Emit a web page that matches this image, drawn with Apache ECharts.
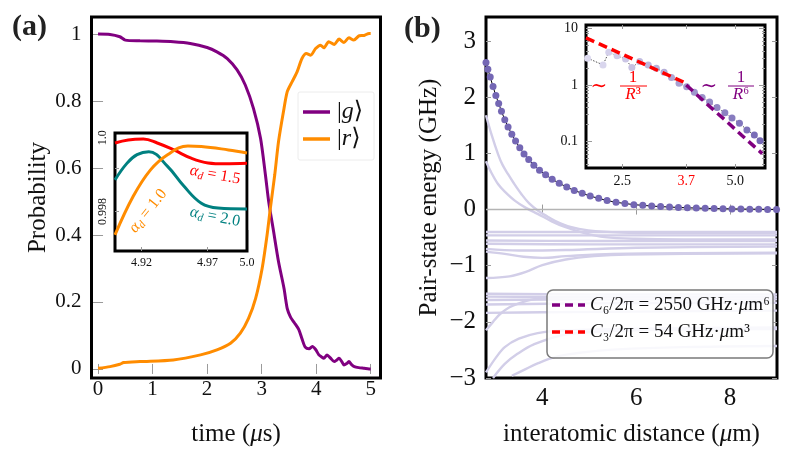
<!DOCTYPE html>
<html><head><meta charset="utf-8">
<script src="https://cdn.jsdelivr.net/npm/echarts@6/dist/echarts.min.js"></script>
<style>html,body{margin:0;padding:0;background:#fff}#c{width:791px;height:468px}</style>
</head><body><div id="c"></div>
<script>
// ---------- panel (a) data ----------
const timeTicks = [0, 1, 2, 3, 4, 5];
const probTicks = [0, 0.2, 0.4, 0.6, 0.8, 1];
const probG = [[0,1.0],[0.22,0.999],[0.40,0.992],[0.50,0.982],[0.77,0.980],[1.08,0.979],[1.38,0.977],[1.69,0.972],[2.0,0.960],[2.18,0.947],[2.37,0.927],[2.55,0.893],[2.70,0.848],[2.85,0.778],[2.98,0.689],[3.07,0.579],[3.13,0.499],[3.21,0.420],[3.31,0.320],[3.41,0.241],[3.47,0.180],[3.53,0.155],[3.60,0.138],[3.68,0.118],[3.74,0.090],[3.80,0.065],[3.87,0.060],[3.93,0.067],[3.99,0.058],[4.05,0.042],[4.10,0.036],[4.14,0.032],[4.20,0.042],[4.26,0.033],[4.33,0.022],[4.38,0.027],[4.42,0.032],[4.47,0.022],[4.51,0.012],[4.56,0.016],[4.60,0.022],[4.65,0.013],[4.70,0.007],[4.78,0.004],[4.88,0.002],[4.97,0.0],[5.0,0.0]];
const probR = [[0,0.002],[0.22,0.007],[0.40,0.014],[0.47,0.019],[0.77,0.022],[1.38,0.027],[1.88,0.042],[2.18,0.057],[2.43,0.077],[2.61,0.107],[2.76,0.151],[2.89,0.211],[3.01,0.301],[3.10,0.400],[3.16,0.480],[3.24,0.579],[3.31,0.679],[3.40,0.768],[3.47,0.828],[3.56,0.858],[3.65,0.887],[3.74,0.927],[3.82,0.942],[3.90,0.937],[3.99,0.957],[4.08,0.967],[4.14,0.959],[4.23,0.977],[4.33,0.969],[4.42,0.985],[4.51,0.975],[4.60,0.989],[4.69,0.982],[4.79,0.995],[4.88,0.996],[4.97,1.002],[5.0,1.002]];
// inset (a)
const zoomTimeTicks = [4.92, 4.97];
const zoomTimeLabels = [4.92, 4.97, 5.0];
const zoomProbTicks = [0.998, 0.999];
const zoomProbLabelAt = [0.998, 0.9997];
const zoomProbLabels = ['0.998', '1.0'];
const fid15 = [[4.900,0.99958],[4.910,0.99965],[4.9215,0.99967],[4.932,0.99958],[4.9446,0.99942],[4.9577,0.99923],[4.9705,0.99912],[4.983,0.99910],[5.0,0.99911]];
const fid20 = [[4.900,0.99873],[4.909,0.99911],[4.9167,0.99931],[4.9256,0.99938],[4.9398,0.99904],[4.9523,0.99858],[4.9654,0.99819],[4.978,0.99808],[5.0,0.99806]];
const fid10 = [[4.900,0.99746],[4.9138,0.99835],[4.9269,0.99896],[4.9398,0.99931],[4.9552,0.99951],[4.9654,0.99950],[4.9859,0.99942],[5.0,0.99935]];

// ---------- panel (b) data ----------
const distTicks = [4, 6, 8];
const energyTicks = [-3, -2, -1, 0, 1, 2, 3];
const pairR = [2.80,2.84,2.89,2.95,3.01,3.07,3.13,3.20,3.27,3.35,3.43,3.52,3.61,3.71,3.82,3.94,4.07,4.21,4.36,4.52,4.68,4.85,5.02,5.20,5.38,5.57,5.76,5.95,6.14,6.33,6.52,6.71,6.90,7.09,7.28,7.47,7.66,7.85,8.04,8.23,8.42,8.61,8.80,8.99];
const pairE = [2.62,2.50,2.36,2.19,2.03,1.89,1.75,1.60,1.47,1.34,1.22,1.10,0.99,0.89,0.79,0.70,0.62,0.54,0.47,0.40,0.34,0.29,0.24,0.20,0.16,0.13,0.108,0.088,0.075,0.063,0.053,0.045,0.038,0.032,0.027,0.022,0.018,0.015,0.012,0.009,0.007,0.005,0.003,0.002];
const levelHi1 = [[2.8,1.68],[2.92,1.33],[3.06,0.98],[3.15,0.80],[3.27,0.63],[3.4,0.46],[3.56,0.27],[3.72,0.11],[3.91,-0.02],[4.1,-0.12],[4.27,-0.2],[4.6,-0.31],[4.98,-0.37],[5.69,-0.41],[6.5,-0.42],[9,-0.42]];
const levelHi2 = [[2.8,0.86],[2.9,0.68],[3.06,0.45],[3.2,0.32],[3.42,0.155],[3.65,0.03],[3.91,-0.08],[4.2,-0.21],[4.48,-0.31],[4.9,-0.42],[5.33,-0.49],[6,-0.52],[7,-0.53],[9,-0.53]];
const levelF1 = [[2.8,-0.40],[5,-0.40],[9,-0.40]];
const levelF2 = [[2.8,-0.46],[5,-0.46],[9,-0.46]];
const levelF3 = [[2.8,-0.55],[5,-0.56],[9,-0.56]];
const levelF4 = [[2.8,-0.61],[5,-0.62],[9,-0.62]];
const levelF5 = [[2.8,-0.70],[3.5,-0.73],[4.5,-0.72],[6,-0.68],[9,-0.66]];
const levelX1 = [[2.8,-0.75],[3.2,-0.79],[3.6,-0.84],[4.0,-0.86],[4.5,-0.83],[5.5,-0.79],[9,-0.77]];
const levelX2 = [[2.8,-1.22],[3.3,-1.19],[3.65,-1.11],[4.0,-0.99],[4.5,-0.89],[5.1,-0.83],[5.8,-0.80],[9,-0.78]];
const levelL1 = [[2.8,-1.50],[5,-1.51],[9,-1.51]];
const levelL2 = [[2.8,-1.55],[5,-1.56],[9,-1.56]];
const levelL3 = [[2.8,-1.61],[5,-1.60],[9,-1.60]];
const levelL4 = [[2.8,-1.69],[5,-1.67],[9,-1.66]];
const levelL5 = [[2.8,-1.84],[4,-1.83],[9,-1.80]];
const levelR1 = [[2.8,-2.15],[2.95,-2.0],[3.1,-1.86],[3.3,-1.74],[3.5,-1.67],[3.8,-1.60],[4.1,-1.57],[5,-1.55],[9,-1.55]];
const levelR2 = [[2.8,-2.9],[3.0,-2.65],[3.2,-2.45],[3.5,-2.30],[3.9,-2.2],[4.5,-2.15],[6,-2.12],[9,-2.1]];
const levelR3 = [[2.95,-3.0],[3.2,-2.75],[3.47,-2.57],[3.82,-2.40],[4.53,-2.22],[6,-2.15],[9,-2.13]];
const levelR4 = [[3.35,-2.96],[3.6,-2.86],[3.9,-2.74],[4.3,-2.62],[4.8,-2.55],[5.6,-2.49],[7,-2.45],[9,-2.43]];
// inset (b)
const insetRTicks = [2.5, 3.7, 5.0];
const insetETicks = [0.1, 1, 10];
const insetEMinor = [0.04,0.05,0.06,0.07,0.08,0.09,0.2,0.3,0.4,0.5,0.6,0.7,0.8,0.9,2,3,4,5,6,7,8,9];
const insetR = [2.02,2.22,2.30,2.42,2.55,2.65,2.78,2.93,3.08,3.23,3.38,3.54,3.71,3.89,4.08,4.27,4.47,4.69,4.90,5.13,5.37,5.62,5.82];
const insetE = [2.96,2.25,3.77,3.25,2.87,2.02,2.58,2.25,1.97,1.67,1.35,1.07,0.93,0.74,0.60,0.50,0.40,0.32,0.26,0.21,0.16,0.13,0.103];
const c3R = [2.0, 2.5, 3.0, 3.7];
const c3E = [6.75, 3.46, 2.0, 1.066];
const c6R = [3.7, 4.2, 4.7, 5.2, 5.9];
const c6E = [0.994, 0.46, 0.238, 0.129, 0.061];

// ---------- helpers ----------
const FONT = "'Liberation Serif','DejaVu Serif',serif";
const zip = (a, b) => a.map((v, i) => [v, b[i]]);
const tk = (vals, len) => ({show: true, inside: true, length: len || 5, customValues: vals, lineStyle: {color: '#9a9a9a', width: 1}});
const noLine = {show: false};
const noSplit = {show: false};
const lab = (vals, size, margin, extra) => Object.assign({customValues: vals, fontSize: size, fontFamily: FONT, color: '#111', margin: margin}, extra || {});
const lerp = (a, b, t) => Math.round(a + (b - a) * t);

const xAxis = [
  {gridIndex: 0, type: 'value', min: -0.12, max: 5.18, position: 'bottom', axisLine: noLine, splitLine: noSplit,
   axisTick: tk(timeTicks), axisLabel: lab(timeTicks, 21, 1),
   name: 'time ({i|μ}s)', nameLocation: 'middle', nameGap: 44,
   nameTextStyle: {fontSize: 25, fontFamily: FONT, color: '#111', rich: {i: {fontSize: 25, fontFamily: FONT, fontStyle: 'italic', color: '#111'}}}},
  {gridIndex: 0, type: 'value', min: -0.12, max: 5.18, position: 'top', axisLine: noLine, splitLine: noSplit, axisTick: tk(timeTicks), axisLabel: {show: false}},
  {gridIndex: 1, type: 'value', min: 4.9, max: 5.0, position: 'bottom', z: 6, axisLine: noLine, splitLine: noSplit,
   axisTick: tk(zoomTimeTicks, 4), axisLabel: lab(zoomTimeLabels, 12, 6, {formatter: v => v.toFixed(v === 5 ? 1 : 2)})},
  {gridIndex: 2, type: 'value', min: 2.8, max: 9, position: 'bottom', axisLine: noLine, splitLine: noSplit,
   axisTick: tk(distTicks), axisLabel: lab(distTicks, 25, 8),
   name: 'interatomic distance ({i|μ}m)', nameLocation: 'middle', nameGap: 44,
   nameTextStyle: {fontSize: 25, fontFamily: FONT, color: '#111', rich: {i: {fontSize: 25, fontFamily: FONT, fontStyle: 'italic', color: '#111'}}}},
  {gridIndex: 2, type: 'value', min: 2.8, max: 9, position: 'top', axisLine: noLine, splitLine: noSplit, axisTick: tk(distTicks), axisLabel: {show: false}},
  {gridIndex: 3, type: 'log', logBase: 10, min: 2, max: 6, position: 'bottom', z: 6, axisLine: noLine, splitLine: noSplit,
   axisTick: tk(insetRTicks, 4), axisLabel: lab(insetRTicks, 14, 6, {formatter: v => Math.abs(v - 3.7) < 1e-6 ? '{r|3.7}' : v.toFixed(1), rich: {r: {color: '#ff0000', fontSize: 14, fontFamily: FONT}}})},
  {gridIndex: 3, type: 'log', logBase: 10, min: 2, max: 6, position: 'top', z: 6, axisLine: noLine, splitLine: noSplit, axisTick: tk(insetRTicks, 4), axisLabel: {show: false}}
];
const yAxis = [
  {gridIndex: 0, type: 'value', min: -0.027, max: 1.051, position: 'left', axisLine: noLine, splitLine: noSplit,
   axisTick: tk(probTicks), axisLabel: lab(probTicks, 21, 10, {formatter: v => (v === 0 || v === 1) ? String(v) : v.toFixed(1)}),
   name: 'Probability', nameLocation: 'middle', nameGap: 35, nameRotate: 90,
   nameTextStyle: {fontSize: 25, fontFamily: FONT, color: '#111'}},
  {gridIndex: 0, type: 'value', min: -0.027, max: 1.051, position: 'right', axisLine: noLine, splitLine: noSplit, axisTick: tk(probTicks), axisLabel: {show: false}},
  {gridIndex: 1, type: 'value', min: 0.99709, max: 0.99981, position: 'left', z: 6, axisLine: noLine, splitLine: noSplit,
   axisTick: tk(zoomProbTicks, 4),
   axisLabel: lab(zoomProbLabelAt, 12, 6, {rotate: 90, formatter: v => zoomProbLabels[zoomProbLabelAt.findIndex(u => Math.abs(u - v) < 1e-7)]})},
  {gridIndex: 2, type: 'value', min: -3, max: 3.43, position: 'left', axisLine: noLine, splitLine: noSplit,
   axisTick: tk(energyTicks), axisLabel: lab(energyTicks, 25, 10, {formatter: v => v < 0 ? '\u2212' + Math.abs(v) : String(v)}),
   name: 'Pair-state energy (GHz)', nameLocation: 'middle', nameGap: 44, nameRotate: 90,
   nameTextStyle: {fontSize: 25, fontFamily: FONT, color: '#111'}},
  {gridIndex: 2, type: 'value', min: -3, max: 3.43, position: 'right', axisLine: noLine, splitLine: noSplit, axisTick: tk(energyTicks), axisLabel: {show: false}},
  {gridIndex: 3, type: 'log', logBase: 10, min: 0.034, max: 11.4, position: 'left', z: 6, axisLine: noLine, splitLine: noSplit,
   axisTick: tk(insetETicks, 6), axisLabel: lab(insetETicks, 14, 8, {formatter: v => v >= 1 ? String(Math.round(v)) : String(v)})},
  {gridIndex: 3, type: 'log', logBase: 10, min: 0.034, max: 11.4, position: 'left', z: 6, axisLine: noLine, splitLine: noSplit, axisTick: tk(insetEMinor, 3), axisLabel: {show: false}},
  {gridIndex: 3, type: 'log', logBase: 10, min: 0.034, max: 11.4, position: 'right', z: 6, axisLine: noLine, splitLine: noSplit, axisTick: tk(insetETicks, 6), axisLabel: {show: false}},
  {gridIndex: 3, type: 'log', logBase: 10, min: 0.034, max: 11.4, position: 'right', z: 6, axisLine: noLine, splitLine: noSplit, axisTick: tk(insetEMinor, 3), axisLabel: {show: false}}
];

const LIGHT = '#d2cee8';
const lightLevels = [levelHi1, levelHi2, levelF1, levelF2, levelF3, levelF4, levelF5, levelX1, levelX2, levelL1, levelL2, levelL3, levelL4, levelL5, levelR1, levelR2, levelR3, levelR4];
const series = [];
const ln = (xi, yi, data, color, width, z, extra) => Object.assign({type: 'line', xAxisIndex: xi, yAxisIndex: yi, data: data, showSymbol: false, symbol: 'none', z: z,
  lineStyle: {color: color, width: width}, itemStyle: {color: color}, silent: true, animation: false}, extra || {});

series.push(ln(0, 0, probG, '#800080', 3, 3, {smooth: 0.25, name: 'g'}));
series.push(ln(0, 0, probR, '#ff8c00', 3, 3, {smooth: 0.25, name: 'r'}));
series.push(ln(2, 2, fid15, '#ff0000', 3, 7, {smooth: 0.4}));
series.push(ln(2, 2, fid20, '#008080', 3, 7, {smooth: 0.4}));
series.push(ln(2, 2, fid10, '#ff8c00', 3, 7, {smooth: 0.4}));
lightLevels.forEach(d => series.push(ln(3, 3, d, LIGHT, 2.4, 2, {smooth: 0.35})));
series.push(ln(3, 3, [[2.8, 0], [9, 0]], '#b4b4b4', 1.5, 2));
series.push(ln(3, 3, zip(pairR, pairE), '#000', 1, 4, {showSymbol: true, symbol: 'circle', symbolSize: 7,
  itemStyle: {color: '#7467b4', borderWidth: 0}}));
const n = insetR.length;
series.push(ln(5, 5, zip(insetR, insetE), '#222', 0.8, 7, {showSymbol: true, symbol: 'circle', symbolSize: 7,
  lineStyle: {color: '#222', width: 0.8, type: [1.5, 1.5]},
  itemStyle: {borderWidth: 0, color: p => {const t = Math.min(1, p.dataIndex / (n - 1)); return 'rgb(' + lerp(222, 116, t) + ',' + lerp(219, 103, t) + ',' + lerp(240, 180, t) + ')';}}}));
series.push(ln(5, 5, zip(c3R, c3E), '#ff0000', 3.5, 8, {lineStyle: {color: '#ff0000', width: 3.5, type: [9, 5]}}));
series.push(ln(5, 5, zip(c6R, c6E), '#800080', 3.5, 8, {lineStyle: {color: '#800080', width: 3.5, type: [9, 5]}}));

// rich styles for graphic texts use "fill"
const RICH_TXT = (size, color) => ({
  n: {fontSize: size, fontFamily: FONT, fill: color},
  i: {fontSize: size, fontFamily: FONT, fontStyle: 'italic', fill: color}
});
const alphaRich = color => ({
  i: {fontSize: 16, fontFamily: FONT, fontStyle: 'italic', fill: color, lineHeight: 19},
  s: {fontSize: 11, fontFamily: FONT, fontStyle: 'italic', fill: color, lineHeight: 19, verticalAlign: 'bottom'},
  n: {fontSize: 16, fontFamily: FONT, fill: color, lineHeight: 19}
});
const rtxt = (x, y, text, rich, align, extra) => Object.assign({type: 'text', x: x, y: y, z: 60, silent: true,
  style: {text: text, rich: rich, align: align || 'center', verticalAlign: 'middle', fontFamily: FONT}}, extra || {});
const ptxt = (x, y, text, size, color) => ({type: 'text', x: x, y: y, z: 60, silent: true,
  style: {text: text, fontSize: size, fontFamily: FONT, fill: color, align: 'center', verticalAlign: 'middle'}});

const graphic = [
  {type: 'text', left: 12, top: 12, z: 60, style: {text: '(a)', fontSize: 30, fontWeight: 'bold', fontFamily: FONT, fill: '#222'}},
  {type: 'text', left: 404, top: 14, z: 60, style: {text: '(b)', fontSize: 30, fontWeight: 'bold', fontFamily: FONT, fill: '#222'}},
  // legend (a)
  {type: 'rect', z: 55, silent: true, shape: {x: 298, y: 92, width: 76, height: 68, r: 2}, style: {fill: '#fff', stroke: '#ececec', lineWidth: 1}},
  {type: 'line', z: 56, silent: true, shape: {x1: 303, y1: 112, x2: 330, y2: 112}, style: {stroke: '#800080', lineWidth: 3.5}},
  {type: 'line', z: 56, silent: true, shape: {x1: 303, y1: 139, x2: 330, y2: 139}, style: {stroke: '#ff8c00', lineWidth: 3.5}},
  rtxt(337, 112, '{n||}{i|g}{n|\u27e9}', RICH_TXT(24, '#111'), 'left'),
  rtxt(337, 139, '{n||}{i|r}{n|\u27e9}', RICH_TXT(24, '#111'), 'left'),
  // inset (a) labels
  rtxt(215, 175, '{i|α}{s|d}{n| = 1.5}', alphaRich('#ff0000'), 'center', {rotation: -0.18}),
  rtxt(215, 217, '{i|α}{s|d}{n| = 2.0}', alphaRich('#008080'), 'center', {rotation: -0.2}),
  rtxt(148, 211, '{i|α}{s|d}{n| = 1.0}', alphaRich('#ff8c00'), 'center', {rotation: 0.9}),
  {type: 'rect', z: 61, silent: true, shape: {x: 248.7, y: 160, width: 10, height: 70}, style: {fill: '#fff'}},
  // inset (b) annotations
  ptxt(599, 87, '∼', 20, '#ff0000'),
  ptxt(633, 78, '1', 17, '#ff0000'),
  {type: 'line', z: 60, silent: true, shape: {x1: 620, y1: 86, x2: 647, y2: 86}, style: {stroke: '#ff0000', lineWidth: 1}},
  rtxt(633, 95, '{i|R}{n|³}', RICH_TXT(17, '#ff0000')),
  ptxt(709, 87, '∼', 20, '#800080'),
  ptxt(741, 78, '1', 17, '#800080'),
  {type: 'line', z: 60, silent: true, shape: {x1: 728, y1: 86, x2: 754, y2: 86}, style: {stroke: '#800080', lineWidth: 1}},
  rtxt(741, 95, '{i|R}{n|⁶}', RICH_TXT(17, '#800080')),
  // legend (b)
  {type: 'rect', z: 55, silent: true, shape: {x: 547, y: 290, width: 226, height: 68, r: 6}, style: {fill: 'rgba(255,255,255,0.85)', stroke: '#7a7a7a', lineWidth: 1.5}},
  {type: 'line', z: 56, silent: true, shape: {x1: 552, y1: 305, x2: 585, y2: 305}, style: {stroke: '#800080', lineWidth: 3.5, lineDash: [8, 5]}},
  {type: 'line', z: 56, silent: true, shape: {x1: 552, y1: 332, x2: 585, y2: 332}, style: {stroke: '#ff0000', lineWidth: 3.5, lineDash: [8, 5]}},
  rtxt(590, 305, '{i|C}{n|₆/2π = 2550 GHz·}{i|μ}{n|m⁶}', RICH_TXT(19, '#111'), 'left'),
  rtxt(590, 332, '{i|C}{n|₃/2π = 54 GHz·}{i|μ}{n|m³}', RICH_TXT(19, '#111'), 'left')
];

const option = {
  animation: false,
  backgroundColor: '#fff',
  grid: [
    {left: 91.5, top: 17, width: 289, height: 361, show: true, borderColor: '#000', borderWidth: 3, backgroundColor: 'transparent'},
    {left: 115, top: 133, width: 132, height: 118, show: true, borderColor: '#000', borderWidth: 3, backgroundColor: '#fff', z: 5},
    {left: 486, top: 17, width: 291, height: 361, show: true, borderColor: '#000', borderWidth: 3, backgroundColor: 'transparent'},
    {left: 586, top: 25, width: 179, height: 143, show: true, borderColor: '#000', borderWidth: 3, backgroundColor: '#fff', z: 5}
  ],
  xAxis: xAxis,
  yAxis: yAxis,
  series: series,
  graphic: graphic
};
const chart = echarts.init(document.getElementById('c'), null, {renderer: 'canvas'});
chart.setOption(option);
</script></body></html>
